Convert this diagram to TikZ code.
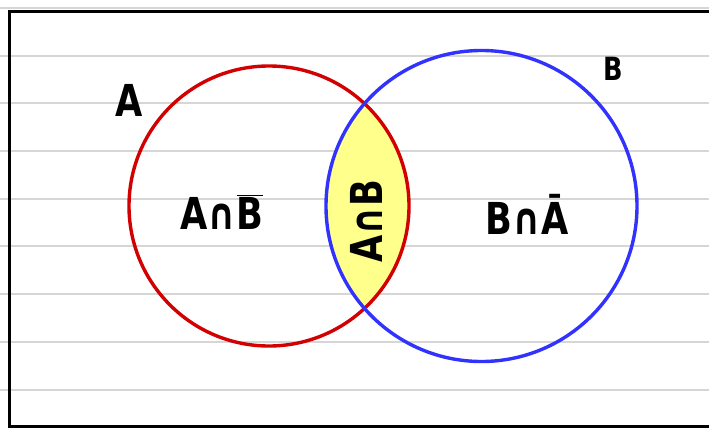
\documentclass[tikz,border=0pt]{standalone}
\usepackage{graphicx}
\usepackage{fontspec}
\newfontfamily\labfont{DejaVu Sans}
\definecolor{setared}{RGB}{210,0,0}
\definecolor{setbblue}{RGB}{50,50,255}
\definecolor{interyellow}{RGB}{255,255,140}
\newcommand{\hw}[1]{\scalebox{0.8}[1]{#1}}
\begin{document}
\begin{tikzpicture}[x=1pt,y=-1pt,
  rule/.style={draw=black!16,line width=1.6pt},
  frame/.style={draw=black,line width=3.6pt},
  seta/.style={draw=setared,line width=3.4pt},
  setb/.style={draw=setbblue,line width=3.4pt},
  lab/.style={font=\labfont\bfseries\fontsize{44}{44}\selectfont,inner sep=0pt},
  smalllab/.style={font=\labfont\bfseries\fontsize{32}{32}\selectfont,inner sep=0pt}]
\useasboundingbox (0,0) rectangle (709,428);
\fill[white] (0,0) rectangle (709,428);
\foreach \y in {8,56,103,151,199,246,294,342,390}
  \draw[rule] (0,\y) -- (709,\y);
\draw[frame] (712,11.5) -- (9.5,11.5) -- (9.5,427) -- (712,427);
\begin{scope}
  \clip (269,206) circle[radius=140pt];
  \fill[interyellow] (481.5,206) circle[radius=155.5pt];
\end{scope}
\draw[seta] (269,206) circle[radius=140pt];
\draw[setb] (481.5,206) circle[radius=155.5pt];
\node[lab] (la) at (129,100) {\hw{A}};
\node[smalllab] (lb) at (613,69) {\hw{B}};
\node[lab] (anb) at (222,212) {\hw{A∩$\overline{\hbox{B}}$}};
\node[lab,rotate=90] (ab) at (366,221) {\hw{A∩B}};
\node[lab] (bna) at (527,214) {\hw{B∩Ā}};
\end{tikzpicture}
\end{document}
